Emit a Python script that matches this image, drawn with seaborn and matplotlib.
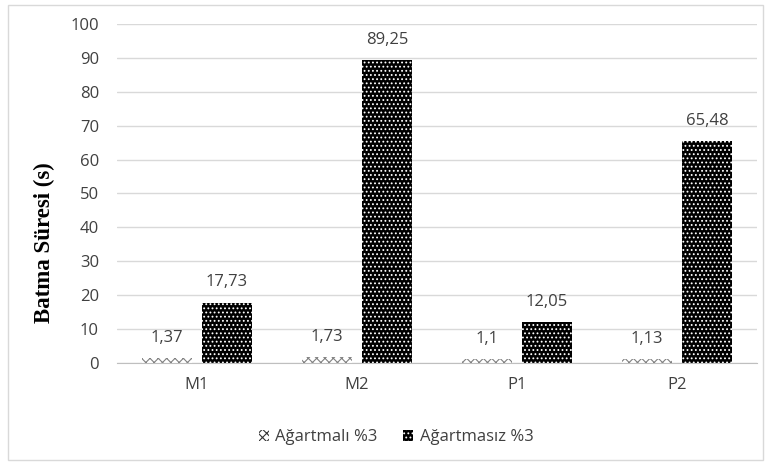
import matplotlib
matplotlib.use("Agg")
import matplotlib.pyplot as plt
from matplotlib.patches import Rectangle, Patch
import seaborn as sns
import pandas as pd

categories = ["M1", "M2", "P1", "P2"]
series_names = ["Ağartmalı %3", "Ağartmasız %3"]
agartmali = [1.37, 1.73, 1.10, 1.13]
agartmasiz = [17.73, 89.25, 12.05, 65.48]
y_ticks = [0, 10, 20, 30, 40, 50, 60, 70, 80, 90, 100]

df = pd.DataFrame({
    "kategori": categories * 2,
    "seri": [series_names[0]] * 4 + [series_names[1]] * 4,
    "deger": agartmali + agartmasiz,
})

sns.set_style("white")
plt.rcParams["font.family"] = ["Open Sans", "DejaVu Sans"]
plt.rcParams["hatch.linewidth"] = 0.8

fig = plt.figure(figsize=(7.69, 4.66), dpi=100)
ax = fig.add_axes([117 / 769, 1 - 363 / 466, 640 / 769, 339 / 466])

sns.barplot(data=df, x="kategori", y="deger", hue="seri", order=categories,
            hue_order=series_names, width=0.75, gap=0.167, ax=ax, legend=False,
            errorbar=None)

for i, cont in enumerate(ax.containers):
    for p in cont.patches:
        if i == 0:
            p.set_facecolor("white")
            p.set_edgecolor("#808080")
            p.set_hatch("xxxx")
        else:
            p.set_facecolor("black")
            p.set_edgecolor("white")
            p.set_hatch("....")
        p.set_linewidth(0)
    vals = agartmali if i == 0 else agartmasiz
    labels = [f"{v:g}".replace(".", ",") for v in vals]
    ax.bar_label(cont, labels=labels, padding=9, fontsize=12, color="#404040")

ax.set_ylim(0, 100)
ax.set_yticks(y_ticks)
ax.tick_params(axis="both", length=0, labelsize=12, colors="#404040")
ax.tick_params(axis="x", pad=10)
ax.tick_params(axis="y", pad=13)
ax.yaxis.grid(True, color="#d9d9d9", linewidth=1)
ax.set_axisbelow(True)
for s in ["top", "right", "left"]:
    ax.spines[s].set_visible(False)
ax.spines["bottom"].set_color("#bfbfbf")
ax.set_xlabel("")
ax.set_ylabel("Batma Süresi (s)", family=["Liberation Serif"], fontweight="bold",
              fontsize=16.5, color="black")
ax.yaxis.set_label_coords(-0.097, 0.354)

handles = [
    Patch(facecolor="white", edgecolor="#333333", hatch="xxxx", linewidth=0),
    Patch(facecolor="black", edgecolor="white", hatch="....", linewidth=0),
]
fig.legend(handles, series_names, loc="center", bbox_to_anchor=(0.515, 0.062),
           ncol=2, frameon=False, fontsize=12, handlelength=0.6, handleheight=0.6,
           handletextpad=0.4, columnspacing=1.5, labelcolor="#404040")

fig.patches.append(Rectangle((0.011, 0.012), 0.981, 0.978, transform=fig.transFigure,
                             fill=False, edgecolor="#d9d9d9", linewidth=1))

fig.savefig("out.png", dpi=100)
